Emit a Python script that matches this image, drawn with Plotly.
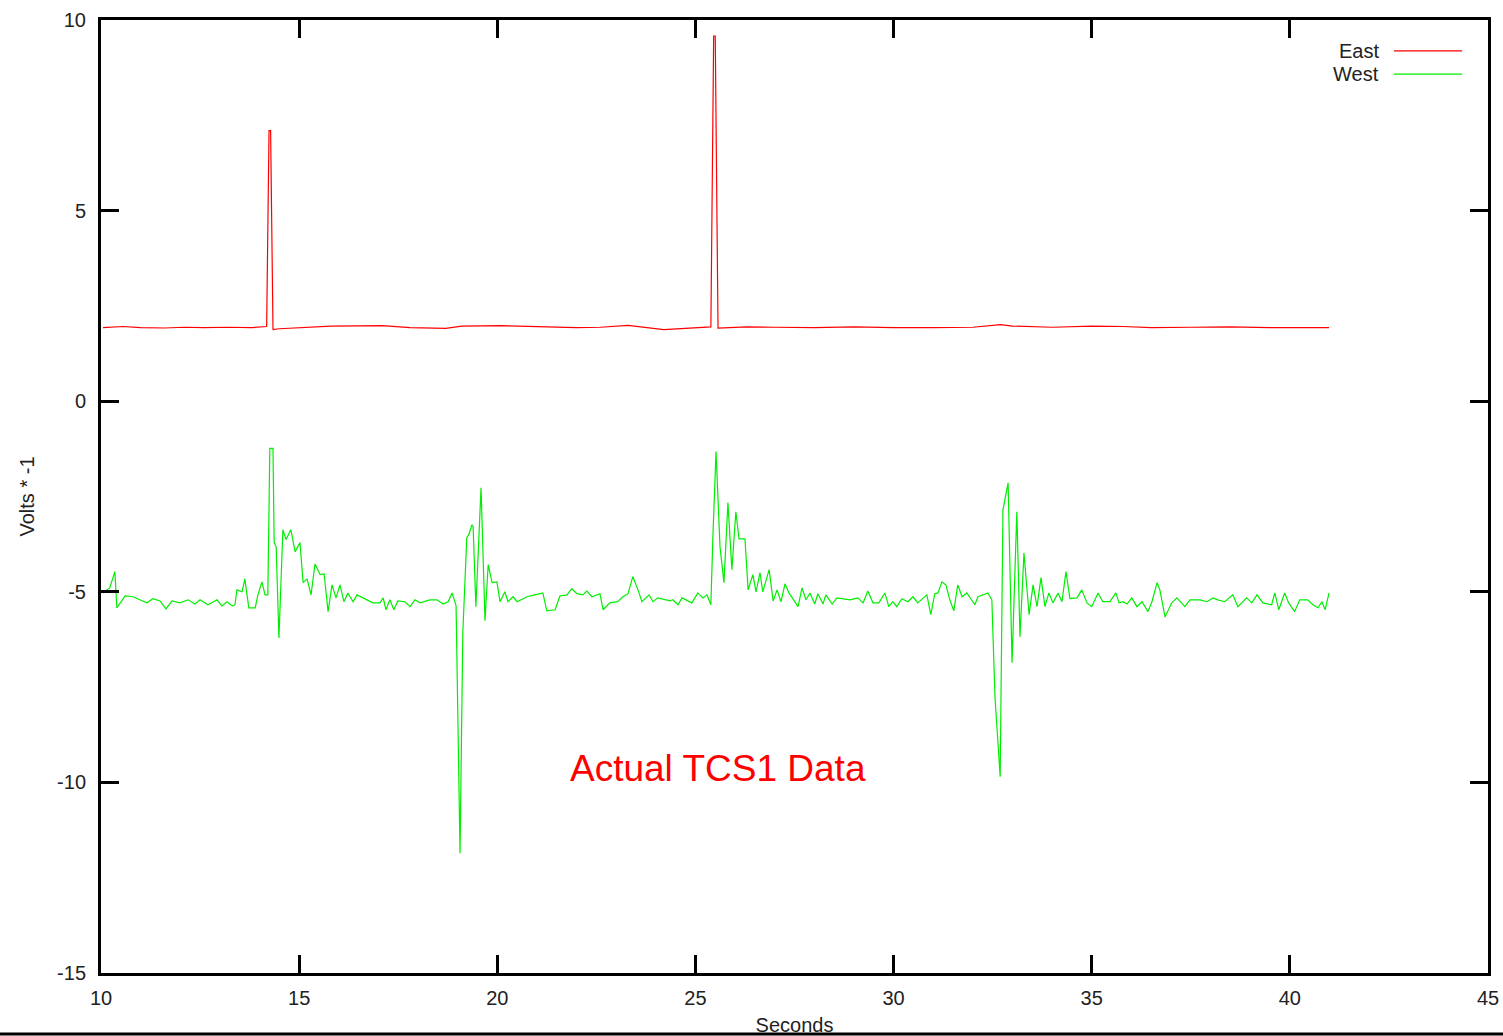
import plotly.graph_objects as go

# ---- data ----
east_t = [10.05, 10.55, 11.0, 11.6, 12.1, 12.6, 13.2, 13.8, 14.18, 14.24, 14.28, 14.34, 14.5,
          15.0, 15.8, 17.1, 17.8, 18.7, 19.1, 20.1, 21.0, 22.0, 22.6, 23.3, 24.2, 24.8,
          25.39, 25.46, 25.50, 25.57, 26.3, 27.0, 28.0, 29.0, 30.0, 31.0, 32.0, 32.7, 33.0,
          34.0, 35.0, 35.8, 36.5, 37.5, 38.5, 39.5, 40.3, 40.99]
east_v = [1.93, 1.96, 1.93, 1.92, 1.94, 1.93, 1.94, 1.93, 1.96, 7.10, 7.10, 1.88, 1.90,
          1.93, 1.97, 1.98, 1.93, 1.91, 1.97, 1.98, 1.95, 1.93, 1.94, 1.99, 1.88, 1.92,
          1.95, 9.58, 9.58, 1.92, 1.95, 1.94, 1.93, 1.95, 1.93, 1.93, 1.94, 2.01, 1.97,
          1.94, 1.97, 1.96, 1.93, 1.94, 1.95, 1.93, 1.94, 1.93]

west_t = [10.05, 10.22, 10.35, 10.40, 10.61, 10.81, 10.98, 11.16, 11.31, 11.49, 11.64, 11.79,
          11.99, 12.20, 12.37, 12.50, 12.70, 12.93, 13.05, 13.18, 13.31, 13.38, 13.43, 13.56,
          13.63, 13.73, 13.89, 13.96, 14.06, 14.14, 14.21, 14.26, 14.34, 14.37, 14.42, 14.49,
          14.59, 14.67, 14.79, 14.90, 15.02, 15.10, 15.20, 15.30, 15.40, 15.53, 15.63, 15.73,
          15.83, 15.93, 16.03, 16.13, 16.23, 16.36, 16.46, 16.71, 16.86, 17.04, 17.12, 17.19,
          17.29, 17.39, 17.49, 17.67, 17.80, 17.92, 18.05, 18.30, 18.48, 18.63, 18.76, 18.86,
          18.96, 19.06, 19.13, 19.23, 19.28, 19.36, 19.39, 19.46, 19.59, 19.69, 19.77, 19.87,
          19.99, 20.07, 20.19, 20.27, 20.40, 20.50, 20.75, 20.95, 21.15, 21.25, 21.46, 21.58,
          21.76, 21.88, 22.01, 22.16, 22.26, 22.39, 22.59, 22.67, 22.84, 23.04, 23.17, 23.30,
          23.42, 23.55, 23.65, 23.83, 23.93, 24.05, 24.23, 24.36, 24.43, 24.56, 24.66, 24.91,
          25.06, 25.19, 25.29, 25.39, 25.44, 25.52, 25.62, 25.72, 25.82, 25.92, 26.02, 26.10,
          26.25, 26.33, 26.45, 26.53, 26.63, 26.70, 26.86, 26.96, 27.06, 27.16, 27.26, 27.36,
          27.59, 27.69, 27.79, 27.89, 28.01, 28.09, 28.22, 28.29, 28.45, 28.57, 28.90, 29.10,
          29.23, 29.35, 29.48, 29.63, 29.78, 29.88, 29.98, 30.08, 30.21, 30.36, 30.49, 30.61,
          30.84, 30.94, 31.04, 31.12, 31.22, 31.32, 31.42, 31.52, 31.62, 31.73, 31.85, 32.05,
          32.13, 32.38, 32.48, 32.56, 32.69, 32.76, 32.89, 32.94, 32.99, 33.11, 33.19, 33.29,
          33.42, 33.52, 33.62, 33.72, 33.82, 33.92, 34.02, 34.15, 34.25, 34.35, 34.45, 34.63,
          34.75, 34.88, 35.00, 35.16, 35.28, 35.46, 35.61, 35.69, 35.79, 35.89, 36.01, 36.14,
          36.27, 36.42, 36.52, 36.65, 36.72, 36.85, 37.02, 37.15, 37.35, 37.48, 37.73, 37.91,
          38.06, 38.18, 38.36, 38.56, 38.69, 38.91, 39.04, 39.17, 39.32, 39.54, 39.62, 39.72,
          39.87, 39.97, 40.12, 40.25, 40.45, 40.58, 40.71, 40.81, 40.89, 40.99]
west_v = [-5.03, -4.90, -4.47, -5.42, -5.11, -5.13, -5.21, -5.29, -5.18, -5.24, -5.45, -5.24,
          -5.29, -5.21, -5.32, -5.21, -5.34, -5.21, -5.37, -5.26, -5.37, -5.34, -4.95, -5.00,
          -4.66, -5.42, -5.42, -5.08, -4.74, -5.08, -5.08, -1.24, -1.24, -3.71, -3.82, -6.21,
          -3.37, -3.63, -3.37, -3.95, -3.71, -4.76, -4.66, -5.08, -4.27, -4.55, -4.53, -5.52,
          -4.82, -5.16, -4.82, -5.26, -5.03, -5.26, -5.08, -5.21, -5.29, -5.29, -5.16, -5.47,
          -5.21, -5.47, -5.24, -5.26, -5.39, -5.21, -5.29, -5.21, -5.21, -5.32, -5.26, -5.03,
          -5.37, -11.86, -6.08, -3.58, -3.50, -3.24, -3.29, -5.39, -2.27, -5.76, -4.29, -4.76,
          -4.74, -5.26, -5.00, -5.26, -5.13, -5.26, -5.13, -5.08, -5.03, -5.50, -5.47, -5.11,
          -5.08, -4.92, -5.05, -5.08, -4.98, -5.13, -5.05, -5.47, -5.29, -5.26, -5.13, -5.05,
          -4.60, -4.95, -5.26, -5.08, -5.26, -5.16, -5.21, -5.24, -5.21, -5.34, -5.16, -5.29,
          -5.03, -5.16, -5.08, -5.34, -3.56, -1.32, -3.82, -4.76, -2.66, -4.42, -2.90, -3.61,
          -3.61, -4.95, -4.55, -5.00, -4.50, -5.00, -4.42, -5.24, -4.95, -5.26, -4.79, -5.03,
          -5.39, -4.90, -5.21, -5.03, -5.32, -5.05, -5.32, -5.08, -5.32, -5.16, -5.21, -5.16,
          -5.29, -4.98, -5.29, -5.29, -5.03, -5.39, -5.26, -5.39, -5.18, -5.26, -5.13, -5.29,
          -5.08, -5.60, -5.05, -5.03, -4.74, -4.82, -5.21, -5.50, -4.82, -5.13, -5.03, -5.34,
          -5.13, -5.03, -5.21, -7.78, -9.85, -2.85, -2.14, -4.76, -6.86, -2.90, -6.18, -3.98,
          -5.60, -4.82, -5.39, -4.63, -5.39, -5.03, -5.29, -5.03, -5.26, -4.47, -5.18, -5.16,
          -4.95, -5.29, -5.39, -5.03, -5.26, -5.26, -5.03, -5.29, -5.26, -5.32, -5.16, -5.39,
          -5.26, -5.52, -5.26, -4.76, -4.95, -5.66, -5.29, -5.16, -5.39, -5.21, -5.21, -5.26,
          -5.16, -5.21, -5.26, -5.08, -5.39, -5.16, -5.29, -5.08, -5.29, -5.34, -5.03, -5.47,
          -5.03, -5.29, -5.52, -5.21, -5.21, -5.34, -5.42, -5.26, -5.47, -5.03]

x_ticks = [10, 15, 20, 25, 30, 35, 40, 45]
y_ticks = [-15, -10, -5, 0, 5, 10]
series_names = ["East", "West"]
series_colors = ["#ff0000", "#00ee00"]

FONT = "Liberation Sans, Arial, sans-serif"

fig = go.Figure()
fig.add_trace(go.Scatter(x=east_t, y=east_v, mode="lines", name=series_names[0],
                         line=dict(color=series_colors[0], width=1.2), showlegend=False))
fig.add_trace(go.Scatter(x=west_t, y=west_v, mode="lines", name=series_names[1],
                         line=dict(color=series_colors[1], width=1.2), showlegend=False))

axis_common = dict(showgrid=False, zeroline=False, showline=True, linecolor="black",
                   linewidth=3, mirror="allticks", ticks="inside", ticklen=18, tickwidth=3,
                   tickcolor="black", automargin=False,
                   tickfont=dict(family=FONT, size=20, color="#222"))

fig.update_xaxes(range=[10, 45], tickvals=x_ticks, ticktext=[str(v) for v in x_ticks],
                 title=dict(text="Seconds", font=dict(family=FONT, size=20, color="#222"),
                            standoff=11),
                 ticklabelstandoff=5, **axis_common)
fig.update_yaxes(range=[-15, 10], tickvals=y_ticks, ticktext=[str(v) for v in y_ticks],
                 title=dict(text="Volts * -1", font=dict(family=FONT, size=20, color="#222"),
                            standoff=18),
                 ticklabelstandoff=8, **axis_common)

# legend drawn gnuplot-style (text left of sample)
legend_y = [0.9675, 0.9433]
annotations = []
shapes = []
for name, col, ly in zip(series_names, series_colors, legend_y):
    annotations.append(dict(xref="paper", yref="paper", x=0.9229, y=ly, text=name,
                            showarrow=False, xanchor="right", yanchor="middle",
                            font=dict(family=FONT, size=20, color="#222")))
    shapes.append(dict(type="line", xref="paper", yref="paper", x0=0.9322, x1=0.9813,
                       y0=ly, y1=ly, line=dict(color=col, width=1.2)))

annotations.append(dict(xref="x", yref="y", x=25.57, y=-9.64, text="Actual TCS1 Data",
                        showarrow=False, xanchor="center", yanchor="middle",
                        font=dict(family=FONT, size=37, color="#ff0000")))
shapes.append(dict(type="line", xref="paper", yref="paper", x0=-0.08, x1=1.02,
                   y0=-0.064, y1=-0.064, line=dict(color="black", width=3)))

fig.update_layout(width=1503, height=1036, margin=dict(l=101, r=15, t=20, b=63),
                  paper_bgcolor="white", plot_bgcolor="white",
                  annotations=annotations, shapes=shapes,
                  font=dict(family=FONT))

fig.write_html("out.html", config={"displayModeBar": False},
               post_script="document.body.style.margin='0';document.body.style.overflow='hidden';")
